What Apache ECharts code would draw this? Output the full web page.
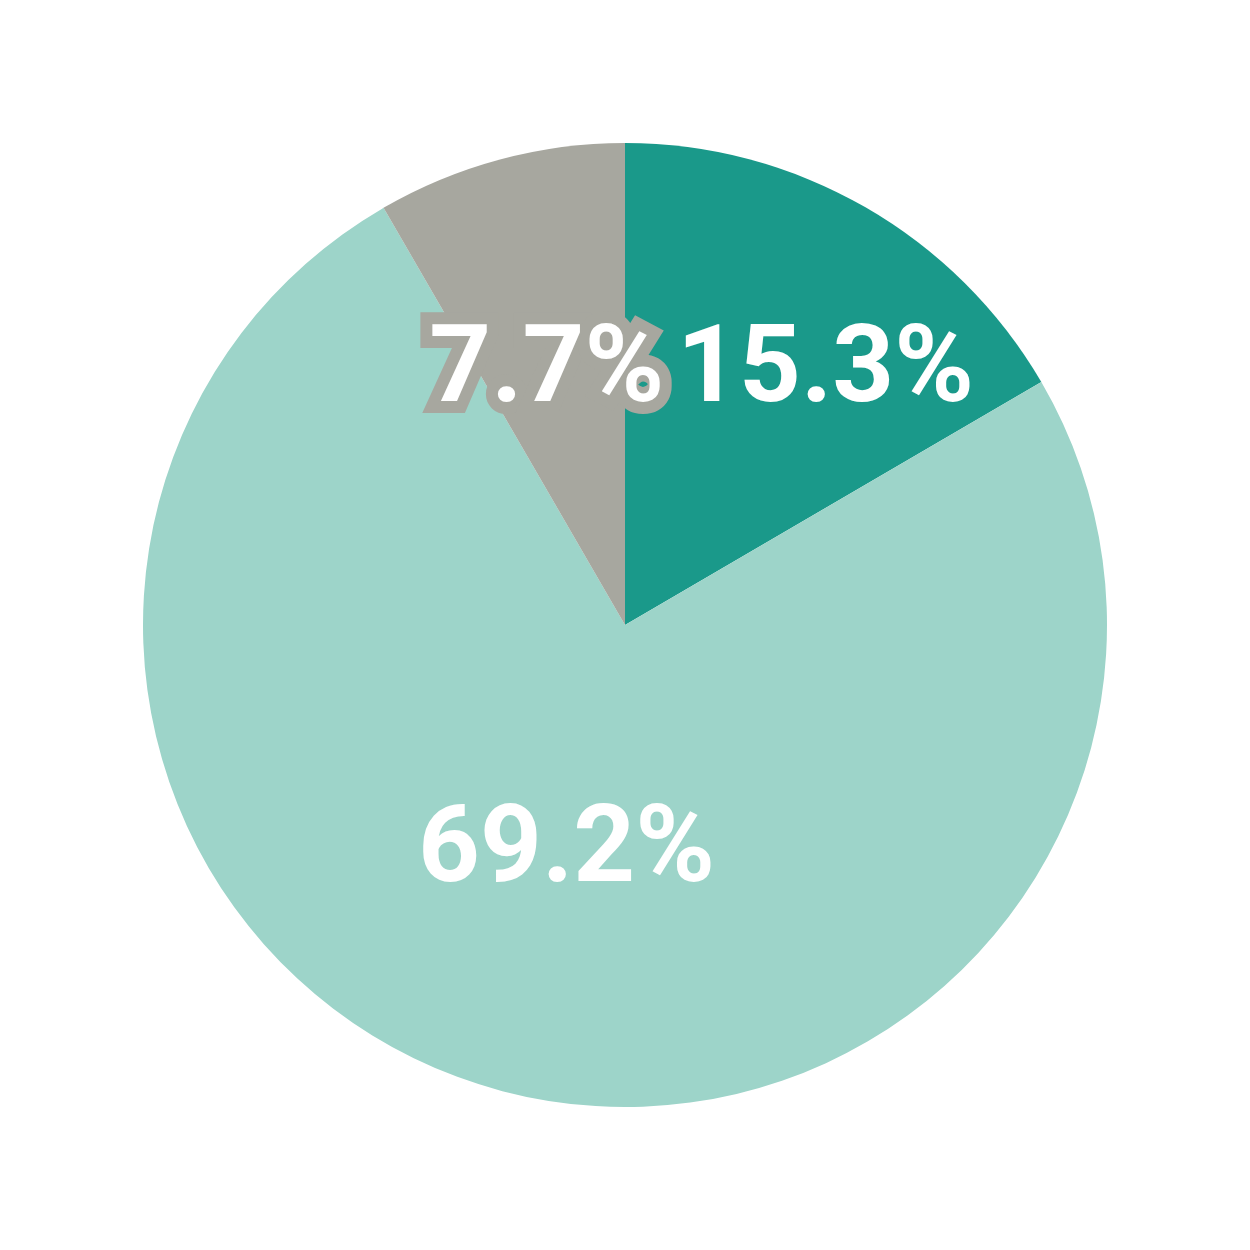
<!DOCTYPE html>
<html>
<head>
<meta charset="utf-8">
<script src="https://cdn.jsdelivr.net/npm/echarts@6/dist/echarts.min.js"></script>
<style>html,body{margin:0;padding:0;background:#fff;}#c{width:1250px;height:1250px;}</style>
</head>
<body>
<div id="c"></div>
<script>
const categories = ['A', 'B', 'C'];
const values = [15.3, 69.2, 7.7];
const colors = ['#1a998a', '#9dd4c9', '#a7a79f'];
const labelOffsets = [[79, -39], [4, -7], [-15, -15]];

const chart = echarts.init(document.getElementById('c'), null, {renderer: 'canvas'});
chart.setOption({
  animation: false,
  backgroundColor: '#ffffff',
  series: [{
    type: 'pie',
    center: [625, 625],
    radius: [0, 482],
    startAngle: 90,
    clockwise: true,
    silent: true,
    avoidLabelOverlap: false,
    labelLayout: {hideOverlap: false},
    label: {
      show: true,
      position: 'inside',
      formatter: p => p.value.toFixed(1) + '%',
      color: '#ffffff',
      fontFamily: 'Roboto, "Liberation Sans", sans-serif',
      fontWeight: 'bold',
      fontSize: 108
    },
    labelLine: {show: false},
    data: categories.map((c, i) => ({
      name: c,
      value: values[i],
      itemStyle: {color: colors[i]},
      label: i === 2
        ? {offset: labelOffsets[i], textBorderColor: colors[i], textBorderWidth: 24}
        : {offset: labelOffsets[i]}
    }))
  }]
});
</script>
</body>
</html>
